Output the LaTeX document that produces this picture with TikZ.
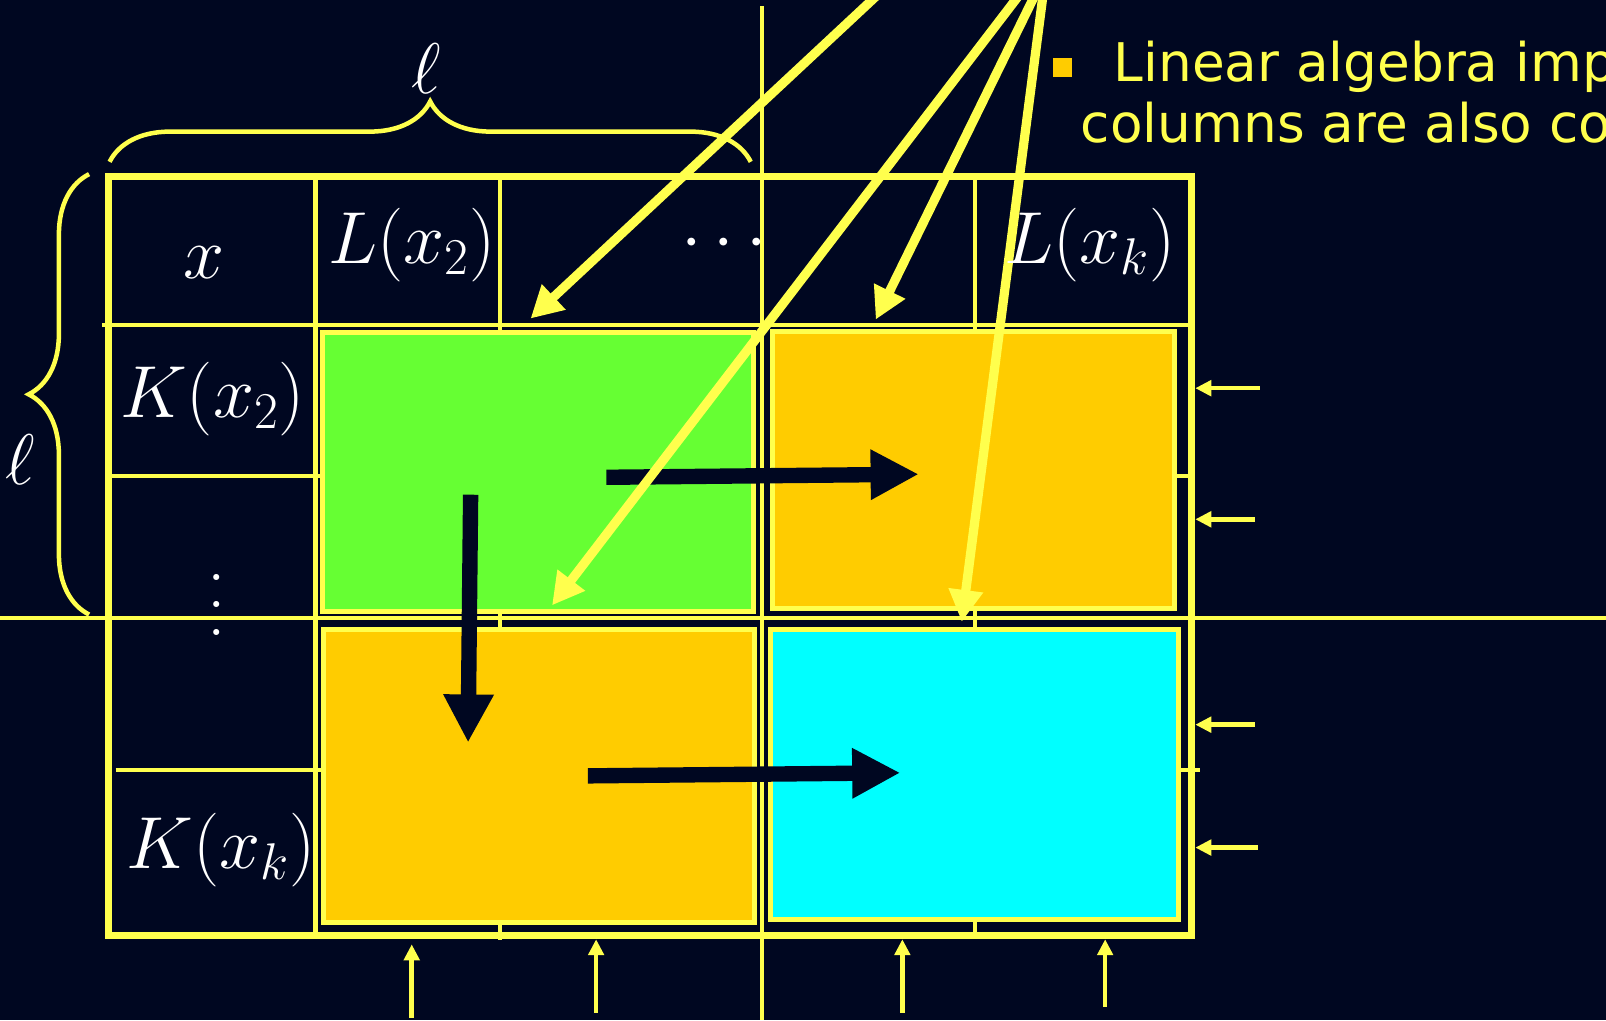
\RequirePackage{fix-cm}
\documentclass[tikz,border=0pt]{standalone}
\usepackage{fontspec}
\usepackage{xcolor}
\usepackage{tikz}
\usetikzlibrary{arrows.meta, positioning, decorations.pathreplacing}

\newfontfamily\slidefont{DejaVu Sans}
\definecolor{slidebg}{RGB}{0,7,33}
\definecolor{lineyellow}{RGB}{255,255,77}
\definecolor{blockgreen}{RGB}{102,255,51}
\definecolor{blockorange}{RGB}{255,204,0}
\definecolor{blockcyan}{RGB}{0,255,255}
\newcommand{\tallvdots}{\vbox{\baselineskip13.5pt\lineskiplimit0pt\hbox{.}\hbox{.}\hbox{.}}}

\begin{document}
\begin{tikzpicture}[
  x=0.5pt, y=-0.5pt,
  gridline/.style={lineyellow, line width=2pt},
  outerframe/.style={lineyellow, line width=3.5pt},
  colblock/.style={draw=lineyellow, line width=2.4pt},
  mathlabel/.style={text=white, inner sep=0pt, anchor=base, font=\fontsize{36}{42}\selectfont},
  slidetext/.style={text=lineyellow, inner sep=0pt, anchor=base west, font=\slidefont\fontsize{26}{30}\selectfont},
  pointer/.style={lineyellow, line width=4.5pt, -{Triangle[length=15.5pt, width=16pt]}},
  flow/.style={slidebg, line width=7.5pt, -{Triangle[length=23.5pt, width=23pt]}},
  feed/.style={lineyellow, line width=2.2pt, -{Triangle[length=7.8pt, width=7.5pt]}},
  curly/.style={lineyellow, line width=2.2pt, decorate, decoration={brace, amplitude=29.5pt}}
]

% Background
\useasboundingbox (0,0) rectangle (1568,996);
\fill[slidebg] (0,0) rectangle (1568,996);
\clip (0,0) rectangle (1568,996);

% Grid
\draw[gridline] (100,317) -- (1163,317);
\draw[gridline] (106,465) -- (1163,465);
\draw[gridline] (0,603) -- (1568,603);
\draw[gridline] (113,752) -- (1172,752);
\draw[gridline] (308,172) -- (308,913);
\draw[gridline] (488,176) -- (488,918);
\draw[gridline] (744,6) -- (744,996);
\draw[gridline] (952,172) -- (952,913);
\draw[outerframe] (106,172) rectangle (1163,913);

% Blocks
\draw[colblock, fill=blockgreen] (314.5,325) rectangle (736,597);
\draw[colblock, fill=blockorange] (754,324) rectangle (1147,594);
\draw[colblock, fill=blockorange] (316,615) rectangle (737,901);
\draw[colblock, fill=blockcyan] (752,615) rectangle (1151,898);

% Block arrows
\coordinate (rowS) at (592,466);
\coordinate (rowE) at (897,463);
\coordinate (colS) at (459.5,483);
\coordinate (colE) at (457,725);
\coordinate (lowS) at (574,757.5);
\coordinate (lowE) at (879,754.5);
\draw[flow] (rowS) -- (rowE);
\draw[flow] (colS) -- (colE);
\draw[flow] (lowS) -- (lowE);

% Pointers from above
\coordinate (srcA) at (860,-8);
\coordinate (srcB) at (999,-10);
\coordinate (srcC) at (1013,-10);
\coordinate (srcD) at (1019,-10);
\coordinate (tipA) at (518,311);
\coordinate (tipB) at (539,591);
\coordinate (tipC) at (855,312);
\coordinate (tipD) at (939,607);
\draw[pointer] (srcA) -- (tipA);
\draw[pointer] (srcB) -- (tipB);
\draw[pointer] (srcC) -- (tipC);
\draw[pointer] (srcD) -- (tipD);

% Side and bottom feeders
\foreach \ya/\xs [count=\i] in {379/1230, 507/1225, 707.5/1225, 827.5/1228} {
  \coordinate (sideS\i) at (\xs,\ya);
  \coordinate (sideE\i) at (1167,\ya);
  \draw[feed] (sideS\i) -- (sideE\i);
}
\foreach \xa/\ys/\ye [count=\i] in {402/994/922, 582/989/917, 881/989/917, 1079/983/917} {
  \coordinate (footS\i) at (\xa,\ys);
  \coordinate (footE\i) at (\xa,\ye);
  \draw[feed] (footS\i) -- (footE\i);
}

% Labels
\node[mathlabel] (hx) at (199,272) {$x$};
\node[mathlabel] (hL2) at (402,257) {$L(x_2)$};
\node[mathlabel] (hdots) at (707,254) {$\cdots$};
\node[mathlabel] (hLk) at (1064,257) {$L(x_k)$};
\node[mathlabel] (rK2) at (207.5,408) {$K(x_2)$};
\node[mathlabel] (rdots) at (212,620.5) {\tallvdots};
\node[mathlabel] (rKk) at (216,848) {$K(x_k)$};
\node[mathlabel, font=\fontsize{35}{40}\selectfont] (ellTop) at (416,91) {$\ell$};
\node[mathlabel, font=\fontsize{35}{40}\selectfont] (ellLeft) at (20,473) {$\ell$};

% Braces
\draw[curly] (107,158) -- (733,158);
\draw[curly] (87,600) -- (87,170);

% Slide text
\node[slidetext] (line1) at (1087,80) {Linear algebra imp};
\node[slidetext] (line2) at (1055,139) {columns are also co};
\node[fill=blockorange, minimum size=9.5pt, inner sep=0pt, left=20pt of line1] (bullet) {};

\end{tikzpicture}
\end{document}
